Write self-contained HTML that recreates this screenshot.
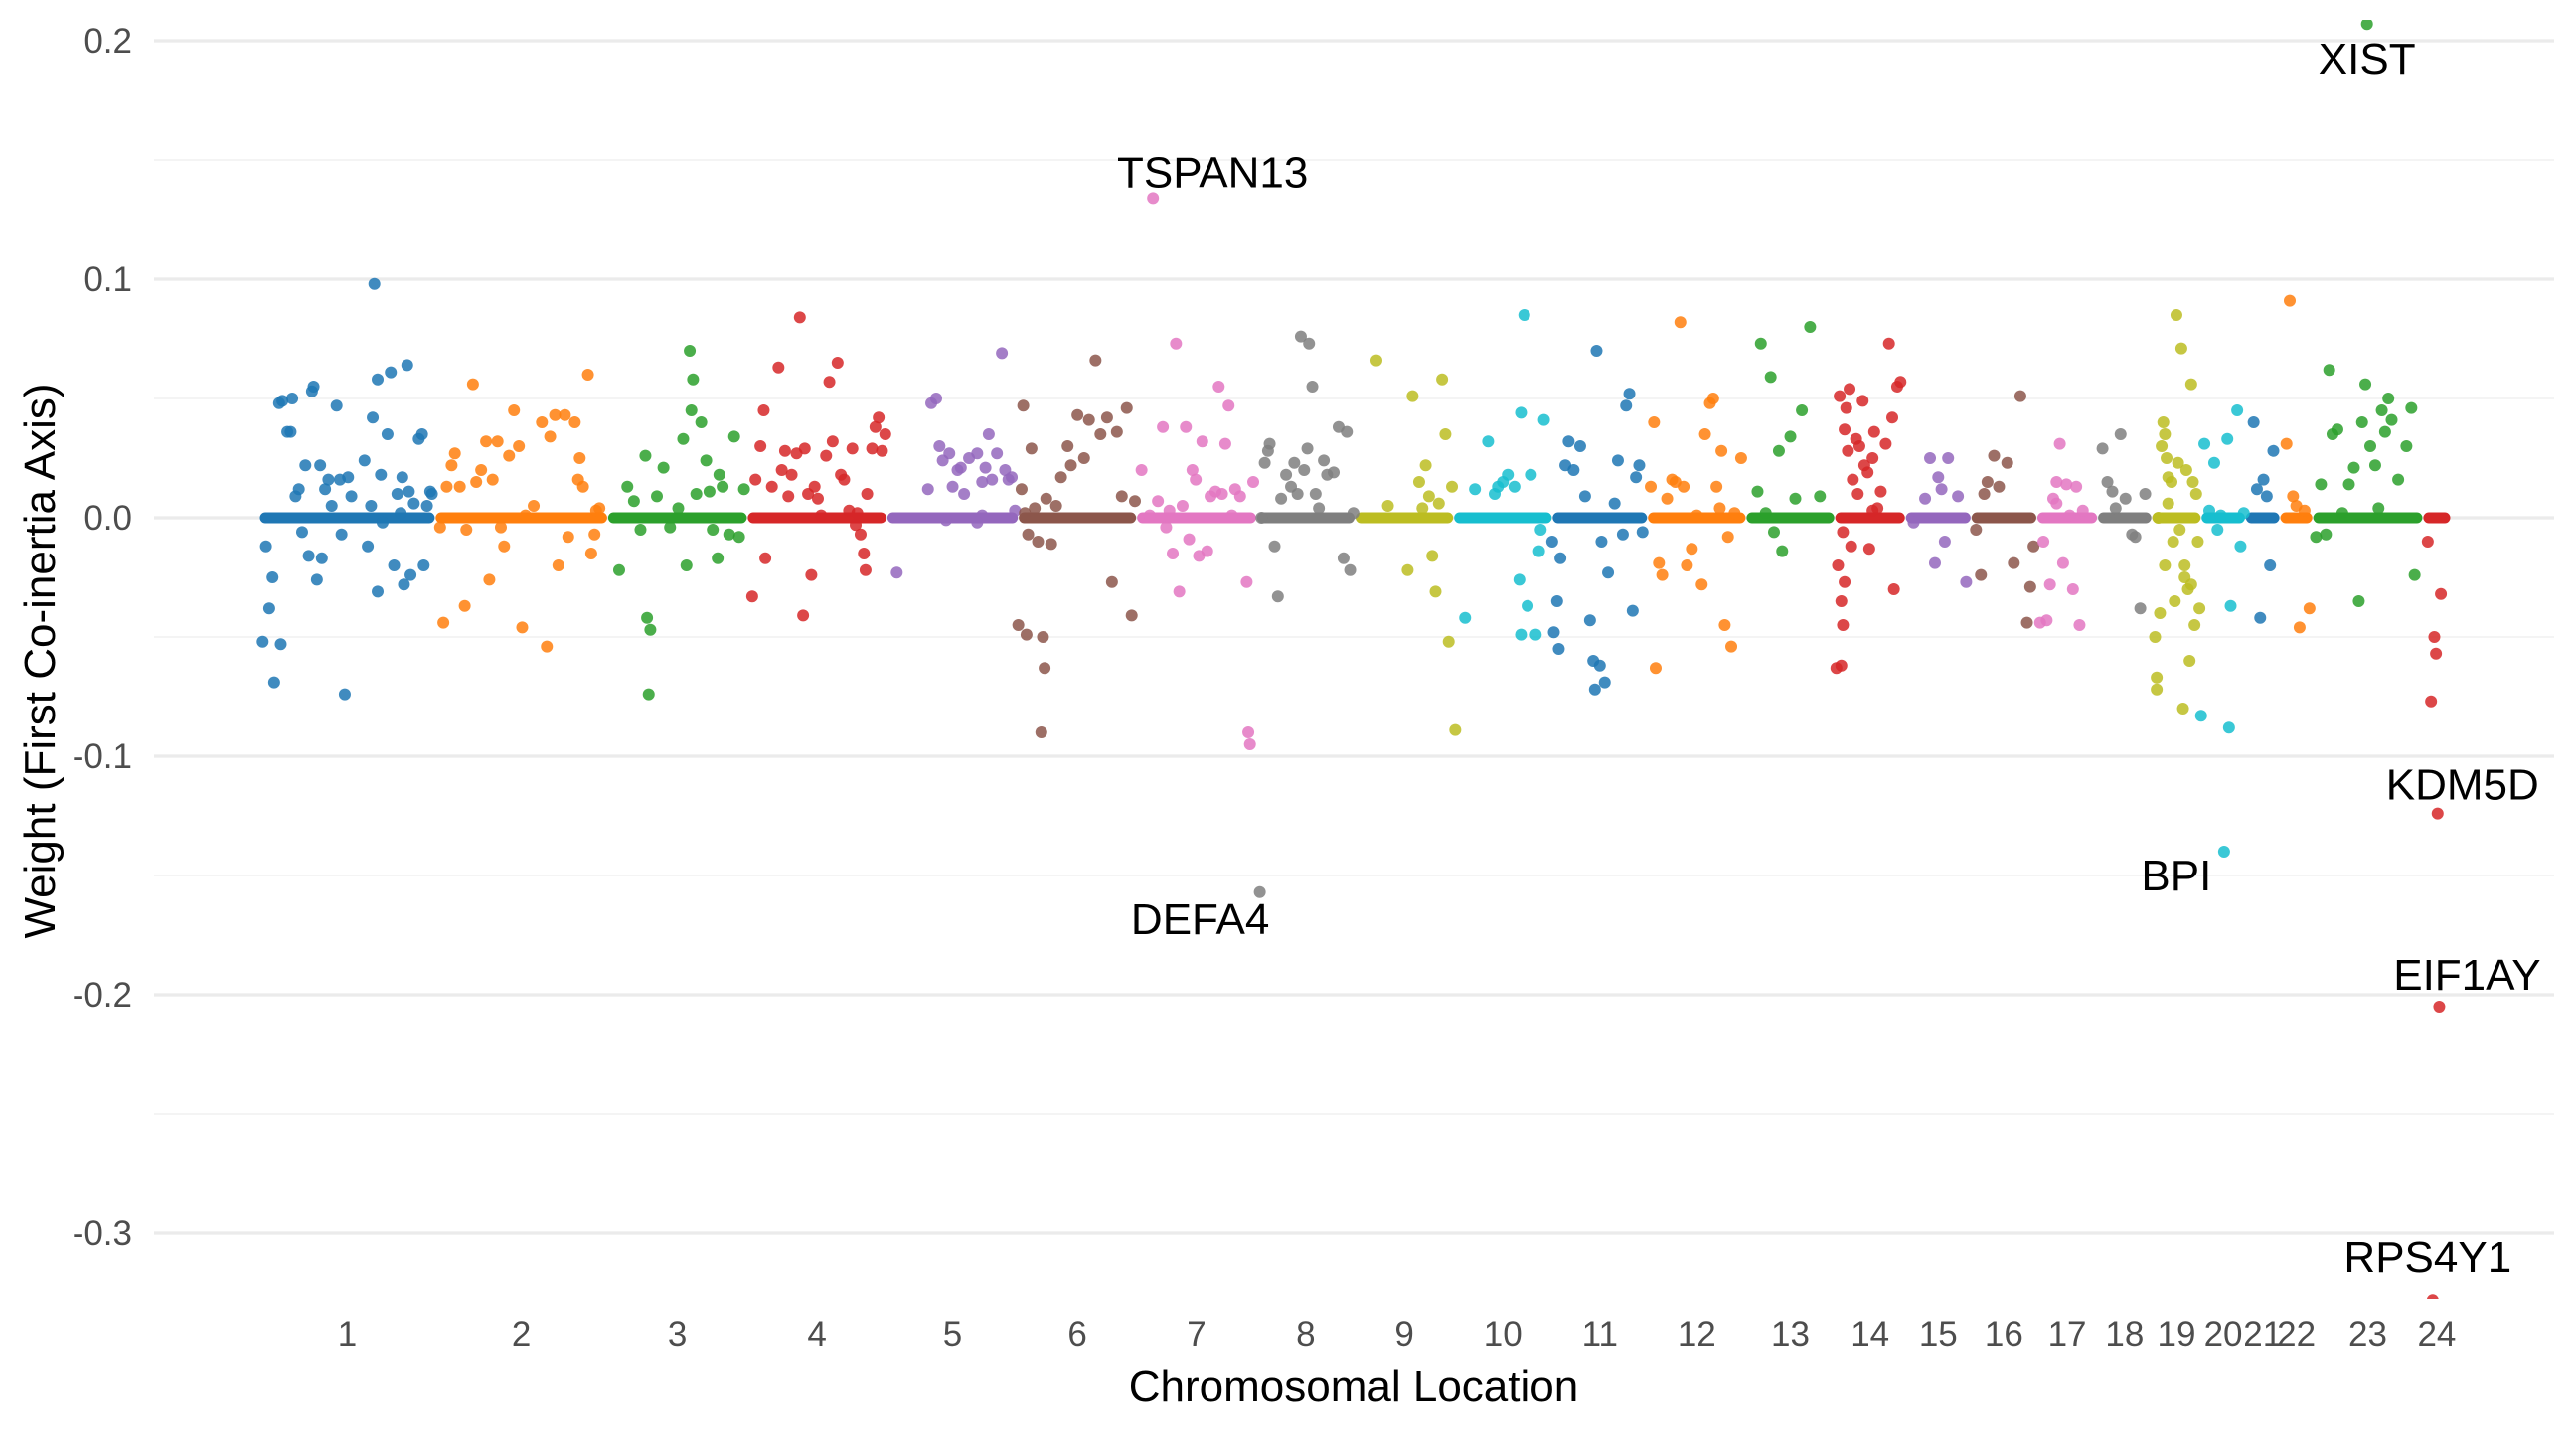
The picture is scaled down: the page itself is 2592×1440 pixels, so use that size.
<!DOCTYPE html>
<html><head><meta charset="utf-8">
<style>
html,body{margin:0;padding:0;background:#fff;}
svg{display:block;font-family:"Liberation Sans",Arial,sans-serif;}
</style></head>
<body>
<svg id="chart" width="2592" height="1440" viewBox="0 0 2592 1440" xmlns="http://www.w3.org/2000/svg">
<g id="grid"></g>
<g id="yaxis"></g>
<g id="xaxis"></g>
<defs><clipPath id="pclip"><rect x="150" y="20" width="2430" height="1287"/></clipPath></defs>
<g id="lines" clip-path="url(#pclip)"></g>
<g id="pts" clip-path="url(#pclip)"></g>
<g id="labels"></g>
<text x="1362" y="1410" font-size="44" text-anchor="middle" fill="#000">Chromosomal Location</text>
<text transform="translate(55,665) rotate(-90)" font-size="44" text-anchor="middle" fill="#000">Weight (First Co-inertia Axis)</text>
</svg>
<script>
const chromNames = ["1","2","3","4","5","6","7","8","9","10","11","12","13","14","15","16","17","18","19","20","21","22","23","24"];
const chromStart = [158,265,370,455,540,620,692,765,825,885,945,1003,1063,1117,1160,1200,1240,1277,1310,1340,1367,1388,1408,1475];
const chromEnd   = [265,370,455,540,620,692,765,825,885,945,1003,1063,1117,1160,1200,1240,1277,1310,1340,1367,1388,1408,1475,1492];
const yTicks = [0.2,0.1,0.0,-0.1,-0.2,-0.3];
const yTickLabels = ["0.2","0.1","0.0","-0.1","-0.2","-0.3"];
const yMinor = [0.15,0.05,-0.05,-0.15,-0.25];
const points = [
[1,160,-0.052],[1,162,-0.012],[1,164,-0.038],[1,166,-0.025],[1,167,-0.069],[1,170,0.048],[1,171,-0.053],[1,172,0.049],[1,175,0.036],[1,177,0.036],[1,178,0.050],[1,180,0.009],[1,182,0.012],[1,184,-0.006],[1,186,0.022],[1,188,-0.016],[1,190,0.053],[1,191,0.055],[1,193,-0.026],[1,195,0.022],[1,196,-0.017],[1,198,0.012],[1,200,0.016],[1,202,0.005],[1,205,0.047],[1,207,0.016],[1,208,-0.007],[1,210,-0.074],[1,212,0.017],[1,222,0.024],[1,224,-0.012],[1,226,0.005],[1,227,0.042],[1,228,0.098],[1,230,0.058],[1,232,0.018],[1,233,-0.002],[1,236,0.035],[1,238,0.061],[1,240,-0.020],[1,242,0.010],[1,245,0.017],[1,246,-0.028],[1,248,0.064],[1,249,0.011],[1,250,-0.024],[1,252,0.006],[1,255,0.033],[1,257,0.035],[1,258,-0.020],[1,260,0.005],[1,262,0.011],[1,263,0.010],[1,214,0.009],[1,230,-0.031],[1,244,0.002],
[2,270,-0.044],[2,272,0.013],[2,275,0.022],[2,277,0.027],[2,280,0.013],[2,283,-0.037],[2,288,0.056],[2,290,0.015],[2,293,0.020],[2,296,0.032],[2,298,-0.026],[2,300,0.016],[2,303,0.032],[2,305,-0.004],[2,307,-0.012],[2,310,0.026],[2,313,0.045],[2,316,0.030],[2,318,-0.046],[2,320,0.001],[2,325,0.005],[2,330,0.040],[2,333,-0.054],[2,335,0.034],[2,338,0.043],[2,340,-0.020],[2,344,0.043],[2,346,-0.008],[2,350,0.040],[2,352,0.016],[2,353,0.025],[2,355,0.013],[2,358,0.060],[2,360,-0.015],[2,363,0.003],[2,365,0.004],[2,362,-0.007],[2,284,-0.005],[2,268,-0.004],
[3,377,-0.022],[3,382,0.013],[3,386,0.007],[3,390,-0.005],[3,393,0.026],[3,394,-0.042],[3,395,-0.074],[3,396,-0.047],[3,400,0.009],[3,404,0.021],[3,408,-0.004],[3,413,0.004],[3,416,0.033],[3,418,-0.020],[3,420,0.070],[3,421,0.045],[3,422,0.058],[3,424,0.010],[3,427,0.040],[3,430,0.024],[3,432,0.011],[3,434,-0.005],[3,437,-0.017],[3,438,0.018],[3,440,0.013],[3,444,-0.007],[3,447,0.034],[3,450,-0.008],[3,453,0.012],
[4,458,-0.033],[4,460,0.016],[4,463,0.030],[4,465,0.045],[4,466,-0.017],[4,470,0.013],[4,474,0.063],[4,476,0.020],[4,478,0.028],[4,480,0.009],[4,482,0.018],[4,485,0.027],[4,487,0.084],[4,489,-0.041],[4,490,0.029],[4,492,0.010],[4,494,-0.024],[4,496,0.013],[4,498,0.008],[4,500,0.001],[4,503,0.026],[4,505,0.057],[4,507,0.032],[4,510,0.065],[4,512,0.018],[4,514,0.016],[4,517,0.003],[4,519,0.029],[4,521,-0.003],[4,522,0.002],[4,524,-0.007],[4,526,-0.015],[4,527,-0.022],[4,528,0.010],[4,531,0.029],[4,533,0.038],[4,535,0.042],[4,537,0.028],[4,539,0.035],
[5,546,-0.023],[5,565,0.012],[5,567,0.048],[5,570,0.050],[5,572,0.030],[5,574,0.024],[5,576,-0.001],[5,578,0.027],[5,580,0.013],[5,583,0.020],[5,585,0.021],[5,587,0.010],[5,590,0.025],[5,595,0.027],[5,598,0.015],[5,600,0.021],[5,602,0.035],[5,604,0.016],[5,607,0.027],[5,610,0.069],[5,612,0.020],[5,614,0.016],[5,616,0.017],[5,618,0.003],[5,598,0.001],[5,595,-0.002],
[6,620,-0.045],[6,622,0.012],[6,623,0.047],[6,625,-0.049],[6,626,-0.007],[6,628,0.029],[6,630,0.004],[6,632,-0.010],[6,634,-0.090],[6,635,-0.050],[6,636,-0.063],[6,637,0.008],[6,640,-0.011],[6,643,0.005],[6,646,0.017],[6,650,0.030],[6,652,0.022],[6,656,0.043],[6,660,0.025],[6,663,0.041],[6,667,0.066],[6,670,0.035],[6,674,0.042],[6,677,-0.027],[6,680,0.036],[6,683,0.009],[6,686,0.046],[6,689,-0.041],[6,691,0.007],[6,624,0.002],
[7,695,0.020],[7,700,0.001],[7,702,0.134],[7,705,0.007],[7,708,0.038],[7,710,-0.004],[7,712,0.003],[7,714,-0.015],[7,716,0.073],[7,718,-0.031],[7,720,0.005],[7,722,0.038],[7,724,-0.009],[7,726,0.020],[7,728,0.016],[7,730,-0.016],[7,732,0.032],[7,735,-0.014],[7,737,0.009],[7,740,0.011],[7,742,0.055],[7,744,0.010],[7,746,0.031],[7,748,0.047],[7,750,0.001],[7,752,0.012],[7,755,0.009],[7,759,-0.027],[7,760,-0.090],[7,761,-0.095],[7,763,0.015],
[8,767,-0.157],[8,768,0.000],[8,770,0.023],[8,772,0.028],[8,773,0.031],[8,776,-0.012],[8,778,-0.033],[8,780,0.008],[8,783,0.018],[8,786,0.013],[8,788,0.023],[8,790,0.010],[8,792,0.076],[8,794,0.020],[8,796,0.029],[8,797,0.073],[8,799,0.055],[8,801,0.010],[8,803,0.004],[8,806,0.024],[8,808,0.018],[8,812,0.019],[8,815,0.038],[8,818,-0.017],[8,820,0.036],[8,822,-0.022],[8,824,0.002],
[9,838,0.066],[9,845,0.005],[9,857,-0.022],[9,860,0.051],[9,864,0.015],[9,866,0.004],[9,868,0.022],[9,870,0.009],[9,872,-0.016],[9,874,-0.031],[9,876,0.006],[9,878,0.058],[9,880,0.035],[9,882,-0.052],[9,884,0.013],[9,886,-0.089],
[10,892,-0.042],[10,898,0.012],[10,906,0.032],[10,910,0.010],[10,912,0.013],[10,915,0.015],[10,918,0.018],[10,922,0.013],[10,925,-0.026],[10,926,0.044],[10,928,0.085],[10,930,-0.037],[10,932,0.018],[10,935,-0.049],[10,937,-0.014],[10,940,0.041],[10,926,-0.049],[10,938,-0.005],
[11,945,-0.010],[11,946,-0.048],[11,948,-0.035],[11,949,-0.055],[11,950,-0.017],[11,953,0.022],[11,955,0.032],[11,958,0.020],[11,962,0.030],[11,965,0.009],[11,968,-0.043],[11,970,-0.060],[11,971,-0.072],[11,972,0.070],[11,974,-0.062],[11,975,-0.010],[11,977,-0.069],[11,979,-0.023],[11,983,0.006],[11,985,0.024],[11,988,-0.007],[11,990,0.047],[11,992,0.052],[11,994,-0.039],[11,996,0.017],[11,998,0.022],[11,1000,-0.006],
[12,1005,0.013],[12,1007,0.040],[12,1008,-0.063],[12,1010,-0.019],[12,1012,-0.024],[12,1015,0.008],[12,1018,0.016],[12,1020,0.015],[12,1023,0.082],[12,1025,0.013],[12,1027,-0.020],[12,1030,-0.013],[12,1033,0.001],[12,1036,-0.028],[12,1038,0.035],[12,1041,0.048],[12,1043,0.050],[12,1045,0.013],[12,1048,0.028],[12,1050,-0.045],[12,1052,-0.008],[12,1054,-0.054],[12,1056,0.002],[12,1060,0.025],[12,1047,0.004],
[13,1070,0.011],[13,1072,0.073],[13,1075,0.002],[13,1078,0.059],[13,1080,-0.006],[13,1083,0.028],[13,1085,-0.014],[13,1090,0.034],[13,1093,0.008],[13,1097,0.045],[13,1102,0.080],[13,1108,0.009],
[14,1118,-0.063],[14,1119,-0.020],[14,1120,0.051],[14,1121,-0.035],[14,1122,-0.006],[14,1123,0.037],[14,1124,0.046],[14,1125,0.028],[14,1126,0.054],[14,1127,-0.012],[14,1128,0.016],[14,1130,0.033],[14,1131,0.010],[14,1132,0.030],[14,1134,0.049],[14,1135,0.022],[14,1137,0.019],[14,1138,-0.013],[14,1140,0.025],[14,1141,0.036],[14,1143,0.004],[14,1145,0.011],[14,1148,0.031],[14,1150,0.073],[14,1152,0.042],[14,1153,-0.030],[14,1155,0.055],[14,1157,0.057],[14,1122,-0.045],[14,1121,-0.062],[14,1123,-0.027],[14,1140,0.003],
[15,1165,-0.002],[15,1172,0.008],[15,1175,0.025],[15,1178,-0.019],[15,1180,0.017],[15,1182,0.012],[15,1184,-0.010],[15,1186,0.025],[15,1192,0.009],[15,1197,-0.027],
[16,1203,-0.005],[16,1206,-0.024],[16,1208,0.010],[16,1210,0.015],[16,1214,0.026],[16,1217,0.013],[16,1222,0.023],[16,1226,-0.019],[16,1230,0.051],[16,1234,-0.044],[16,1236,-0.029],[16,1238,-0.012],
[17,1242,-0.044],[17,1244,-0.010],[17,1246,-0.043],[17,1248,-0.028],[17,1250,0.008],[17,1252,0.006],[17,1254,0.031],[17,1256,-0.019],[17,1258,0.014],[17,1260,0.001],[17,1262,-0.030],[17,1264,0.013],[17,1266,-0.045],[17,1268,0.003],[17,1252,0.015],
[18,1280,0.029],[18,1283,0.015],[18,1286,0.011],[18,1288,0.004],[18,1291,0.035],[18,1294,0.008],[18,1298,-0.007],[18,1300,-0.008],[18,1303,-0.038],[18,1306,0.010],
[19,1312,-0.050],[19,1313,-0.072],[19,1314,0.000],[19,1315,-0.040],[19,1316,0.030],[19,1317,0.040],[19,1318,-0.020],[19,1319,0.025],[19,1320,0.017],[19,1322,0.015],[19,1323,-0.010],[19,1325,0.085],[19,1326,0.023],[19,1327,-0.005],[19,1328,0.071],[19,1329,-0.080],[19,1330,-0.025],[19,1331,0.020],[19,1332,-0.030],[19,1333,-0.060],[19,1334,0.056],[19,1335,0.015],[19,1336,-0.045],[19,1337,0.010],[19,1338,-0.010],[19,1339,-0.038],[19,1320,0.006],[19,1324,-0.035],[19,1330,-0.020],[19,1334,-0.028],[19,1318,0.035],[19,1313,-0.067],
[20,1340,-0.083],[20,1342,0.031],[20,1345,0.003],[20,1348,0.023],[20,1350,-0.005],[20,1352,0.001],[20,1354,-0.140],[20,1356,0.033],[20,1357,-0.088],[20,1358,-0.037],[20,1362,0.045],[20,1364,-0.012],[20,1366,0.002],
[21,1372,0.040],[21,1374,0.012],[21,1376,-0.042],[21,1378,0.016],[21,1380,0.009],[21,1382,-0.020],[21,1384,0.028],
[22,1392,0.031],[22,1394,0.091],[22,1396,0.009],[22,1398,0.005],[22,1400,-0.046],[22,1403,0.003],[22,1406,-0.038],
[23,1410,-0.008],[23,1413,0.014],[23,1418,0.062],[23,1420,0.035],[23,1423,0.037],[23,1426,0.002],[23,1430,0.014],[23,1433,0.021],[23,1436,-0.035],[23,1438,0.040],[23,1440,0.056],[23,1441,0.207],[23,1443,0.030],[23,1446,0.022],[23,1450,0.045],[23,1452,0.036],[23,1454,0.050],[23,1456,0.041],[23,1460,0.016],[23,1465,0.030],[23,1468,0.046],[23,1470,-0.024],[23,1416,-0.007],[23,1448,0.004],
[24,1478,-0.010],[24,1480,-0.077],[24,1482,-0.050],[24,1483,-0.057],[24,1484,-0.124],[24,1485,-0.205],[24,1486,-0.032],[24,1481,-0.328]
];
const geneNames = ["XIST","TSPAN13","DEFA4","KDM5D","BPI","EIF1AY","RPS4Y1"];
const genePos = [1441,702,767,1484,1354,1485,1481];
const geneWeight = [0.207,0.134,-0.157,-0.124,-0.140,-0.205,-0.328];
const labelDx = [0,60,-60,25,-48,28,-5];
const labelDy = [2,-25,28,-28,25,-31,6];

const palette = ["#1f77b4","#ff7f0e","#2ca02c","#d62728","#9467bd","#8c564b","#e377c2","#7f7f7f","#bcbd22","#17becf"];
const NS="http://www.w3.org/2000/svg";
const X0=158,X1=1492,PX0=261,PX1=2466;
function xs(v){return PX0+(v-X0)*(PX1-PX0)/(X1-X0);}
function ys(v){return 521-v*2400;}
function mk(tag,attrs,parent){const e=document.createElementNS(NS,tag);for(const k in attrs)e.setAttribute(k,attrs[k]);parent.appendChild(e);return e;}
const grid=document.getElementById('grid'),yax=document.getElementById('yaxis'),xax=document.getElementById('xaxis');
yMinor.forEach(v=>{const l=mk('line',{x1:155,x2:2570,y1:ys(v),y2:ys(v),stroke:'#f0f0f0','stroke-width':1.6},grid);

});
yTicks.forEach((v,i)=>{const l=mk('line',{x1:155,x2:2570,y1:ys(v),y2:ys(v),stroke:'#ebebeb','stroke-width':3.2},grid);


const t=mk('text',{x:133,y:ys(v)+12,'font-size':35,'text-anchor':'end',fill:'#4d4d4d'},yax);


t.textContent=yTickLabels[i];});
chromNames.forEach((n,i)=>{const mid=(chromStart[i]+chromEnd[i])/2;
const t=mk('text',{x:xs(mid),y:1354,'font-size':35,'text-anchor':'middle',fill:'#4d4d4d'},xax);


t.textContent=n;
const l=mk('line',{x1:xs(chromStart[i])+6,x2:xs(chromEnd[i])-6,y1:ys(0),y2:ys(0),stroke:palette[i%10],'stroke-width':11,'stroke-linecap':'round'},document.getElementById('lines'));

});
const pg=document.getElementById('pts');
points.forEach(p=>{const c=mk('circle',{cx:xs(p[1]),cy:ys(p[2]),r:6,fill:palette[(p[0]-1)%10],'fill-opacity':0.85},pg);

});
const lg=document.getElementById('labels');
geneNames.forEach((g,i)=>{const t=mk('text',{x:xs(genePos[i])+labelDx[i],y:ys(geneWeight[i])+labelDy[i]+(i===0?48:(i===6?-34:14)),'font-size':44,'text-anchor':'middle',fill:'#000'},lg);


t.textContent=g;});
</script>
</body></html>
